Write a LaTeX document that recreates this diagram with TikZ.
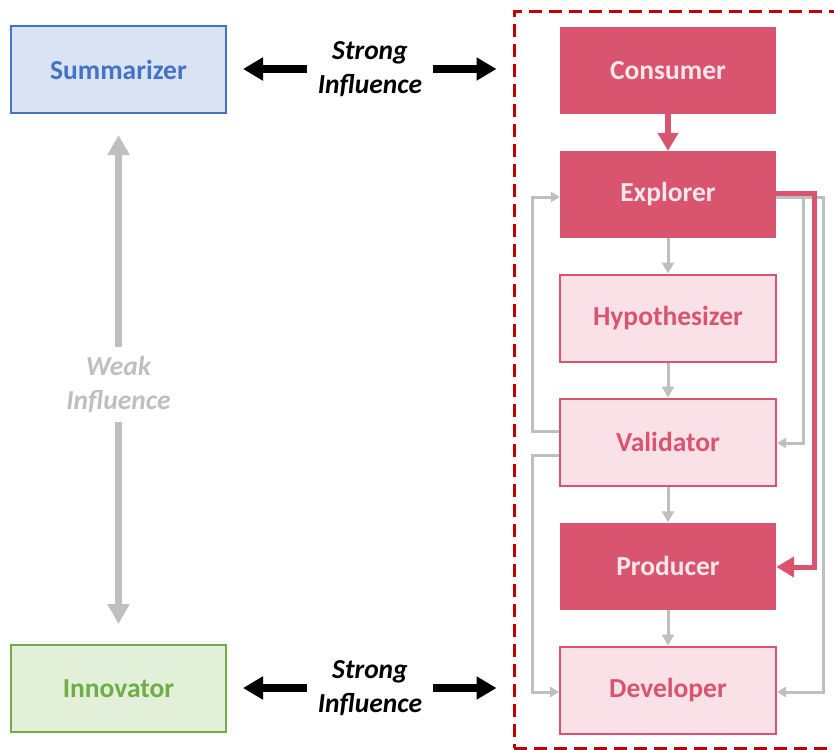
\documentclass[tikz,border=0pt]{standalone}
\usepackage{fontspec}
\setmainfont{Carlito}
\usepackage{tikz}
\usetikzlibrary{arrows.meta, positioning, calc}
\definecolor{ROLE_PINK}{HTML}{D9546F}
\definecolor{ROLE_PINKBG}{HTML}{F9E1E7}
\definecolor{ROLE_PINKTXT}{HTML}{FBE6EB}
\definecolor{ROLE_BLUE}{HTML}{4472C4}
\definecolor{ROLE_BLUEBG}{HTML}{DAE3F3}
\definecolor{ROLE_GREEN}{HTML}{70AD47}
\definecolor{ROLE_GREENBG}{HTML}{E2F0D9}
\definecolor{LINK_GRAY}{HTML}{BFBFBF}
\definecolor{FRAME_RED}{HTML}{C00000}

\tikzset{
  rolebox/.style={rectangle, minimum width=216, minimum height=87, inner sep=0,
    font=\fontsize{27.5}{33}\selectfont\bfseries},
  darkbox/.style={rolebox, fill=ROLE_PINK, text=ROLE_PINKTXT},
  lightbox/.style={rolebox, fill=ROLE_PINKBG, draw=ROLE_PINK, line width=2, text=ROLE_PINK},
  influence/.style={align=center, inner xsep=11, inner ysep=9,
    font=\fontsize{27.5}{34}\selectfont\bfseries\itshape},
  strongarrow/.style={line width=8, -{Triangle[length=20, width=22]}, shorten >=16},
  weakarrow/.style={LINK_GRAY, line width=7, -{Triangle[length=20, width=21]}},
  grayarrow/.style={LINK_GRAY, line width=3, -{Triangle[length=11, width=12]}},
  looparrow/.style={LINK_GRAY, line width=3, -{Triangle[length=9, width=10]}},
  pinkarrow/.style={ROLE_PINK, line width=6, -{Triangle[length=18, width=20]}},
}

\begin{document}
\begin{tikzpicture}[x=1pt, y=-1pt]
      \clip (0,0) rectangle (834,749);

      % Dashed team frame
      \node[draw=FRAME_RED, dash pattern=on 13pt off 7pt, line width=3,
        minimum width=326, minimum height=736, inner sep=0] (team) at (677,380) {};

      % Outer roles
      \node[rolebox, minimum width=215, fill=ROLE_BLUEBG, draw=ROLE_BLUE, line width=2,
        text=ROLE_BLUE] (sum) at (118.5,69.5) {Summarizer};
      \node[rolebox, minimum width=215, fill=ROLE_GREENBG, draw=ROLE_GREEN, line width=2,
        text=ROLE_GREEN] (inn) at (118.5,688.5) {Innovator};

      % Team roles
      \node[darkbox] (con) at (668,70.5) {Consumer};
      \node[darkbox] (exp) at (668,194.5) {Explorer};
      \node[lightbox] (hyp) at (668,318) {Hypothesizer};
      \node[lightbox] (val) at (668,442) {Validator};
      \node[darkbox] (pro) at (668,566) {Producer};
      \node[lightbox] (dev) at (668,690) {Developer};

      % Strong influence
      \node[influence] (si1) at (370,69) {Strong\\Influence};
      \node[influence] (si2) at (370,688) {Strong\\Influence};
      \draw[strongarrow] (si1.west) -- (si1.west -| sum.east);
      \draw[strongarrow] (si1.east) -- (si1.east -| team.west);
      \draw[strongarrow] (si2.west) -- (si2.west -| inn.east);
      \draw[strongarrow] (si2.east) -- (si2.east -| team.west);

      % Weak influence
      \node[influence, text=LINK_GRAY] (wi) at (118.5,384.5) {Weak\\Influence};
      \draw[weakarrow, shorten >=21] (wi.north) -- (wi.north |- sum.south);
      \draw[weakarrow, shorten >=20] (wi.south) -- (wi.south |- inn.north);

      % Main chain
      \draw[grayarrow] (exp) -- (hyp);
      \draw[grayarrow] (hyp) -- (val);
      \draw[grayarrow] (val) -- (pro);
      \draw[grayarrow] (pro) -- (dev);

      % Feedback loops
      \draw[looparrow] ([yshift=11pt]val.west) -- ++(-27,0) |- ([yshift=-2.5pt]exp.west);
      \draw[looparrow] ([yshift=-13pt]val.west) -- ++(-27,0) |- ([yshift=-2pt]dev.west);
      \draw[looparrow] ([yshift=-2.5pt]exp.east) -- ++(27,0) |- ([yshift=-1pt]val.east);
      \draw[looparrow] ([yshift=-2.5pt]exp.east) -- ++(47,0) |- ([yshift=-2pt]dev.east);

      % Strong paths
      \draw[pinkarrow] (con) -- (exp);
      \draw[pinkarrow, line width=5] ([yshift=1.5pt]exp.east) -- ++(38,0) |- ([yshift=-1pt]pro.east);
    \end{tikzpicture}
\end{document}
